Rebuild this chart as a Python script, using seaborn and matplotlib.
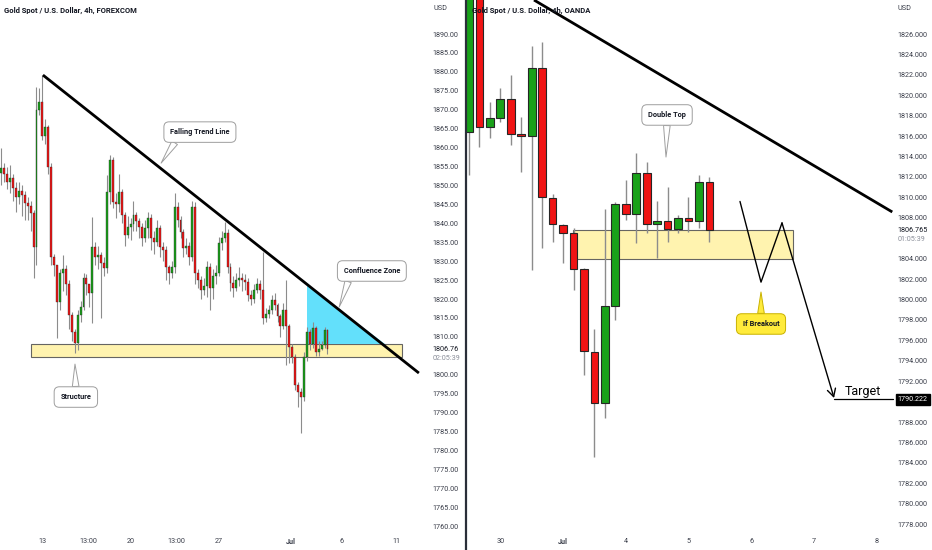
import numpy as np
import pandas as pd
import matplotlib
matplotlib.use("Agg")
import matplotlib.pyplot as plt
from matplotlib.lines import Line2D
from matplotlib.patches import Rectangle, Polygon
import seaborn as sns

# ---- left chart: XAUUSD 4h, FOREXCOM (one value per 4h bar) ----
left_first_open = 1853.3
left_close = [
    1854.6, 1853.0, 1851.0, 1852.0, 1849.3, 1847.0, 1848.5, 1847.5, 1845.3, 1844.5,
    1842.7, 1833.7, 1870.0, 1872.0, 1863.0, 1865.5, 1855.0, 1831.0, 1829.0, 1819.2,
    1826.8, 1828.0, 1824.0, 1815.8, 1811.3, 1808.4, 1815.8, 1818.0, 1825.5, 1824.0,
    1821.6, 1833.7, 1831.0, 1831.5, 1829.5, 1828.2, 1848.3, 1856.7, 1845.6, 1845.0,
    1848.3, 1842.2, 1837.0, 1839.0, 1839.8, 1842.2, 1840.5, 1839.0, 1836.0, 1838.7,
    1841.4, 1836.0, 1835.0, 1838.7, 1833.7, 1833.0, 1828.4, 1827.0, 1828.4, 1844.3,
    1840.9, 1837.7, 1833.5, 1834.0, 1831.0, 1844.3, 1826.8, 1825.0, 1822.5, 1823.5,
    1828.4, 1822.9, 1826.0, 1827.0, 1834.8, 1836.0, 1837.4, 1828.4, 1824.2, 1823.0,
    1825.0, 1825.5, 1825.0, 1824.5, 1821.0, 1820.0, 1822.5, 1824.0, 1822.5, 1815.0,
    1816.0, 1817.0, 1819.7, 1818.5, 1815.5, 1813.0, 1817.0, 1813.0, 1807.3, 1804.7,
    1797.3, 1795.4, 1794.0, 1804.7, 1811.3, 1808.0, 1812.3, 1806.0, 1806.8, 1807.8,
    1811.8, 1806.76]
left_high = [
    1860, 1856, 1855, 1855.5, 1853, 1851, 1851, 1850, 1848.5, 1847,
    1846, 1843.5, 1876, 1875.7, 1879.2, 1867.5, 1866, 1856, 1832, 1829,
    1828, 1831.6, 1829, 1825, 1816.5, 1812, 1817, 1819.5, 1827, 1826.5,
    1824, 1841.7, 1835, 1834, 1832.5, 1831, 1852.7, 1858, 1857.5, 1848,
    1853, 1849, 1843, 1842, 1841.5, 1846, 1843, 1841.5, 1840, 1841,
    1843, 1842.5, 1838, 1841, 1839.5, 1835, 1834, 1829, 1830, 1848,
    1845.5, 1842, 1838.5, 1836, 1835, 1846, 1845.5, 1828, 1826, 1825.5,
    1830, 1829.5, 1828, 1829, 1836.5, 1838, 1840.3, 1838.5, 1829.5, 1826,
    1827, 1828.5, 1827, 1826.5, 1825.5, 1822.5, 1824, 1825.5, 1825, 1832.4,
    1817.5, 1818.5, 1821, 1821.5, 1819, 1816, 1819, 1825, 1813.5, 1808,
    1805.5, 1798, 1796.5, 1806, 1812.5, 1812, 1814, 1813, 1809, 1809,
    1812.5, 1812]
left_low = [
    1850, 1851, 1849, 1848, 1846, 1843, 1845, 1842, 1841, 1841,
    1838, 1825.5, 1829, 1868.5, 1862, 1861, 1853, 1829, 1826, 1809.7,
    1817, 1822, 1821, 1812, 1809, 1805.7, 1806.5, 1814, 1817, 1821,
    1818, 1813.6, 1829, 1828, 1815, 1826, 1827, 1845, 1844, 1841.5,
    1843, 1840, 1834, 1836, 1835.5, 1838, 1838, 1836, 1834, 1835,
    1836, 1833, 1832, 1834, 1831, 1830, 1825, 1824, 1825.5, 1827,
    1839, 1836, 1831, 1832, 1829, 1830, 1824, 1823, 1820, 1821,
    1820.5, 1817, 1820, 1824, 1826, 1833, 1835, 1827, 1822, 1820.5,
    1822, 1823.5, 1822, 1822.5, 1819.5, 1818.5, 1819, 1821.5, 1820, 1813.5,
    1814, 1815, 1816, 1817, 1814, 1810, 1812, 1802.5, 1803, 1803,
    1796, 1791.5, 1784.6, 1793, 1803.5, 1806.5, 1807, 1805, 1805, 1806.5,
    1807, 1805.5]
left_tick_pos = [14.2, 29.5, 44.1, 59.5, 74.1, 98.6, 115.9, 134.3]
left_tick_lab = ["13", "13:00", "20", "13:00", "27", "Jul", "6", "11"]
left_last = 1806.76
left_zone = (1804.66, 1808.1)
left_trend = ([14.2, 142.1], [1879.17, 1800.44])

# ---- right chart: XAUUSD 4h, OANDA ----
right_open = [1816.4, 1831.0, 1816.9, 1817.8, 1819.6, 1816.2, 1816.0, 1822.7, 1809.9, 1807.3,
              1806.5, 1803.0, 1794.9, 1789.9, 1799.4, 1809.4, 1808.4, 1812.4, 1807.4, 1807.7,
              1806.9, 1808.0, 1807.7, 1811.5]
right_close = [1831.0, 1816.9, 1817.8, 1819.6, 1816.2, 1816.0, 1822.7, 1810.0, 1807.4, 1806.5,
               1803.0, 1795.0, 1789.9, 1799.4, 1809.4, 1808.4, 1812.4, 1807.4, 1807.7, 1806.9,
               1808.0, 1807.7, 1811.5, 1806.765]
right_high = [1833.0, 1834.0, 1819.3, 1820.7, 1822.0, 1817.9, 1824.8, 1825.2, 1810.3, 1807.4,
              1807.0, 1803.1, 1797.1, 1808.9, 1809.5, 1811.7, 1814.3, 1813.5, 1809.6, 1811.0,
              1808.3, 1810.0, 1812.2, 1812.0]
right_low = [1812.2, 1814.9, 1815.8, 1817.4, 1815.1, 1812.5, 1802.9, 1805.0, 1805.6, 1803.6,
             1800.9, 1792.6, 1784.6, 1788.4, 1798.0, 1807.8, 1805.5, 1806.5, 1804.1, 1805.6,
             1806.5, 1806.6, 1807.0, 1805.6]
right_tick_pos = [3, 9, 15, 21, 27, 33, 39]
right_tick_lab = ["30", "Jul", "4", "5", "6", "7", "8"]
right_last = 1806.765
right_target = 1790.222
right_zone = (1804.0, 1806.765)
right_trend = ([6.22, 40.5], [1829.33, 1808.57])
path_x = [25.93, 27.94, 29.95, 34.93]
path_y = [1809.6, 1801.7, 1807.5, 1790.35]

GREEN = "#19a119"
RED = "#f01414"
WICK = "#8c8c8c"

sns.set_style("white")
plt.rcParams["font.family"] = ["Roboto", "DejaVu Sans"]

W, H = 932, 550
fig = plt.figure(figsize=(W / 100, H / 100), dpi=100)
axL = fig.add_axes([0, 22 / H, 428 / W, 528 / H])
axR = fig.add_axes([467 / W, 22 / H, 426 / W, 528 / H])


def candles(ax, df, width, body_lw, min_h, wick_lw):
    up = df["close"] >= df["open"]
    ax.vlines(df.index, df["low"], df["high"], color=WICK, lw=wick_lw, zorder=2)
    h = (df["close"] - df["open"]).abs().clip(lower=min_h)
    bottom = df[["open", "close"]].min(axis=1)
    ax.bar(df.index, h, bottom=bottom, width=width,
           color=np.where(up, GREEN, RED), edgecolor="#262626",
           linewidth=body_lw, zorder=3)


def callout(ax, text, xy, xytext, relpos, fc="white", ec="#9e9e9e"):
    ax.annotate(text, xy=xy, xytext=xytext, ha="center", va="center",
                fontsize=5.3, fontweight="bold", color="#131722", zorder=8,
                bbox=dict(boxstyle="round,pad=0.85,rounding_size=0.7", fc=fc, ec=ec, lw=0.7),
                arrowprops=dict(arrowstyle="wedge,tail_width=0.9,shrink_factor=0.5",
                                fc=fc, ec=ec, lw=0.7, shrinkA=0, shrinkB=0, relpos=relpos))


# ---------- left panel ----------
lo = [left_first_open] + left_close[:-1]
dfL = pd.DataFrame({"open": lo, "close": left_close, "high": left_high, "low": left_low})
candles(axL, dfL, 0.66, 0.25, 0.3, 0.8)
axL.set_xlim(-0.41, 145.2)
axL.set_ylim(1759.5, 1899.0)

axL.add_patch(Rectangle((10.1, left_zone[0]), 126.2, left_zone[1] - left_zone[0],
                        fc="#fff2a6", ec="#555555", lw=0.8, alpha=0.9, zorder=1))
axL.add_patch(Polygon([[104.0, 1823.7], [104.0, left_zone[1]], [130.6, left_zone[1]]],
                      closed=True, fc="#63e0fb", ec="none", zorder=1.5))
axL.plot(left_trend[0], left_trend[1], color="black", lw=2.0, zorder=5,
         solid_capstyle="butt", clip_on=False)

callout(axL, "Falling Trend Line", (54.4, 1855.9), (67.6, 1864.1), (0.15, 0.0))
callout(axL, "Confluence Zone", (115.0, 1817.9), (126.1, 1827.4), (0.12, 0.0))
callout(axL, "Structure", (25.1, 1802.8), (25.4, 1794.1), (0.5, 1.0))

lticks = [v for v in range(1760, 1895, 5) if v != 1805]
axL.set_yticks(lticks)
axL.set_yticklabels([f"{v:.2f}" for v in lticks])

# ---------- right panel ----------
dfR = pd.DataFrame({"open": right_open, "close": right_close,
                    "high": right_high, "low": right_low})
candles(axR, dfR, 0.74, 0.8, 0.12, 1.0)
axR.set_xlim(-0.19, 40.57)
axR.set_ylim(1777.62, 1829.33)

axR.add_patch(Rectangle((9.95, right_zone[0]), 21.05, right_zone[1] - right_zone[0],
                        fc="#fff2a6", ec="#555555", lw=0.8, alpha=0.9, zorder=1))
axR.plot(right_trend[0], right_trend[1], color="black", lw=2.0, zorder=5,
         solid_capstyle="butt", clip_on=False)
axR.plot(path_x[:3], path_y[:3], color="black", lw=1.0, zorder=5)
axR.annotate("", xy=(path_x[3], path_y[3]), xytext=(path_x[2], path_y[2]),
             arrowprops=dict(arrowstyle="->,head_length=0.55,head_width=0.3",
                             color="black", lw=1.0, shrinkA=0, shrinkB=0), zorder=5)
axR.plot([path_x[3], 40.57], [right_target, right_target], color="black", lw=0.9,
         zorder=5, clip_on=False)
axR.text(37.7, right_target + 0.15, "Target", ha="center", va="bottom",
         fontsize=9, color="black", zorder=6)

callout(axR, "Double Top", (18.85, 1813.95), (18.95, 1818.07), (0.5, 0.0))
callout(axR, "If Breakout", (27.94, 1800.73), (27.94, 1797.6), (0.5, 1.0),
        fc="#ffeb3b", ec="#c9b200")

rticks = [v for v in range(1778, 1828, 2) if v not in (1806, 1790)]
axR.set_yticks(rticks)
axR.set_yticklabels([f"{v:.3f}" for v in rticks])

# ---------- shared axis styling ----------
for ax, pos, lab in ((axL, left_tick_pos, left_tick_lab), (axR, right_tick_pos, right_tick_lab)):
    for s in ax.spines.values():
        s.set_visible(False)
    ax.grid(False)
    ax.yaxis.tick_right()
    ax.tick_params(axis="y", length=0, pad=3.5, labelsize=5.2, labelcolor="#3a3e4a")
    ax.set_xticks(pos)
    ax.set_xticklabels(lab)
    ax.tick_params(axis="x", length=0, pad=7, labelsize=5.2, labelcolor="#3a3e4a")
    for t in ax.get_xticklabels():
        if t.get_text() == "Jul":
            t.set_fontweight("bold")
    ax.set_facecolor("none")

# last price labels on the scales
for ax, val, fmt, timer in ((axL, left_last, "{:.2f}", "02:05:39"), (axR, right_last, "{:.3f}", "01:05:39")):
    ax.annotate(fmt.format(val), xy=(1, val), xycoords=("axes fraction", "data"),
                xytext=(3.5, 0), textcoords="offset points", ha="left", va="center",
                fontsize=5.2, color="#131722", annotation_clip=False)
    ax.annotate(timer, xy=(1, val), xycoords=("axes fraction", "data"),
                xytext=(3.5, -6.5), textcoords="offset points", ha="left", va="center",
                fontsize=5.2, color="#8a8e99", annotation_clip=False)
axR.annotate(f"{right_target:.3f}", xy=(1, right_target), xycoords=("axes fraction", "data"),
             xytext=(3.5, 0), textcoords="offset points", ha="left", va="center",
             fontsize=5.2, color="white", annotation_clip=False,
             bbox=dict(boxstyle="square,pad=0.3", fc="black", ec="black"))

fig.text(433 / W, 1 - 8 / H, "USD", fontsize=5.2, color="#3a3e4a", va="center")
fig.text(897 / W, 1 - 8 / H, "USD", fontsize=5.2, color="#3a3e4a", va="center")
fig.text(4 / W, 1 - 10 / H, "Gold Spot / U.S. Dollar, 4h, FOREXCOM", fontsize=5.5,
         fontweight="bold", color="#131722", va="center")
fig.text(472 / W, 1 - 10 / H, "Gold Spot / U.S. Dollar, 4h, OANDA", fontsize=5.5,
         fontweight="bold", color="#131722", va="center", zorder=10)
fig.add_artist(Line2D([466 / W, 466 / W], [0, 1], color="#2a2e39", lw=1.6))

fig.savefig("out.png", dpi=100)
